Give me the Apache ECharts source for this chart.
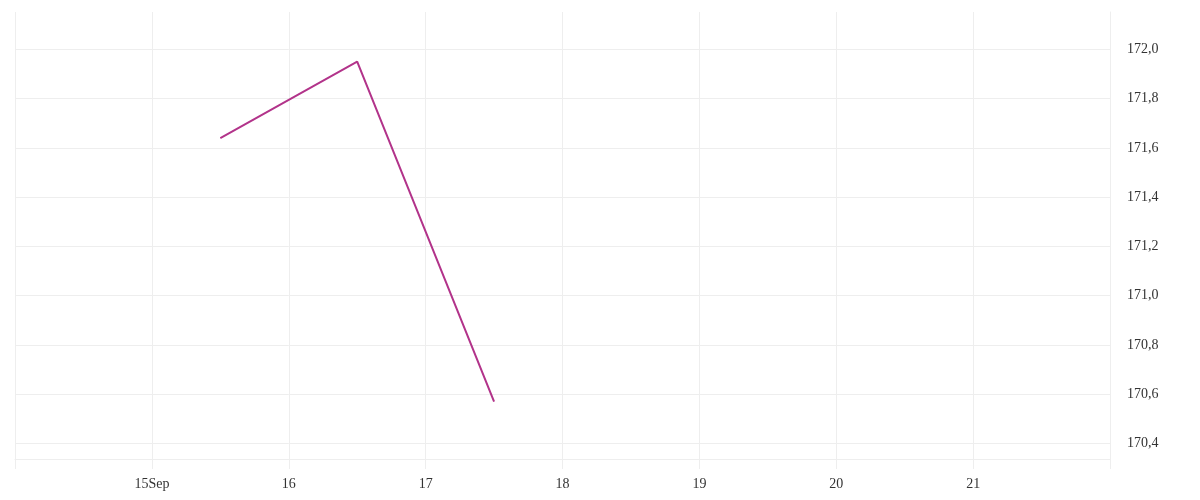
<!DOCTYPE html>
<html>
<head>
<meta charset="utf-8">
<script src="https://cdn.jsdelivr.net/npm/echarts@6/dist/echarts.min.js"></script>
<style>html,body{margin:0;padding:0;background:#fff;}#c{width:1200px;height:500px;}</style>
</head>
<body>
<div id="c"></div>
<script>
var DAY = 86400000;
var dates = ['2023-09-15T12:00:00Z', '2023-09-16T12:00:00Z', '2023-09-17T12:00:00Z'];
var values = [171.64, 171.95, 170.57];
var xMin = '2023-09-14T00:00:00Z';
var xMax = '2023-09-22T00:00:00Z';
var yMin = 170.3375;
var yMax = 172.1515;

var chart = echarts.init(document.getElementById('c'), null, {renderer: 'canvas'});
var font = 'Liberation Serif';
var xMinT = Date.parse(xMin), xMaxT = Date.parse(xMax);
chart.setOption({
  animation: false,
  backgroundColor: '#fff',
  grid: {left: 15, right: 90, top: 12, bottom: 41, containLabel: false},
  xAxis: {
    type: 'value',
    min: xMinT,
    max: xMaxT,
    interval: DAY,
    axisLine: {show: true, lineStyle: {color: '#eeeeee', width: 1}},
    axisTick: {show: true, length: 10, inside: false, lineStyle: {color: '#eeeeee', width: 1}},
    splitLine: {show: true, lineStyle: {color: '#eeeeee', width: 1}},
    axisLabel: {
      show: true, margin: 18, color: '#333', fontFamily: font, fontSize: 14,
      showMinLabel: true, showMaxLabel: true,
      formatter: function (v) {
        if (v === xMinT || v === xMaxT) return '';
        var d = new Date(v);
        var day = d.getUTCDate();
        if (day === 15) return '15Sep';
        return String(day);
      }
    }
  },
  yAxis: {
    type: 'value',
    position: 'right',
    min: yMin,
    max: yMax,
    splitNumber: 9,
    scale: true,
    axisLine: {show: true, lineStyle: {color: '#eeeeee', width: 1}},
    axisTick: {show: false},
    splitLine: {show: true, showMaxLine: false, showMinLine: true, lineStyle: {color: '#eeeeee', width: 1}},
    axisLabel: {
      show: true, margin: 17, color: '#333', fontFamily: font, fontSize: 14,
      showMinLabel: false, showMaxLabel: false,
      formatter: function (v) { return v.toFixed(1).replace('.', ','); }
    }
  },
  series: [{
    type: 'line',
    data: dates.map(function (d, i) { return [Date.parse(d), values[i]]; }),
    showSymbol: false,
    symbol: 'none',
    lineStyle: {color: '#b2338a', width: 2},
    itemStyle: {color: '#b2338a'}
  }]
});
</script>
</body>
</html>
